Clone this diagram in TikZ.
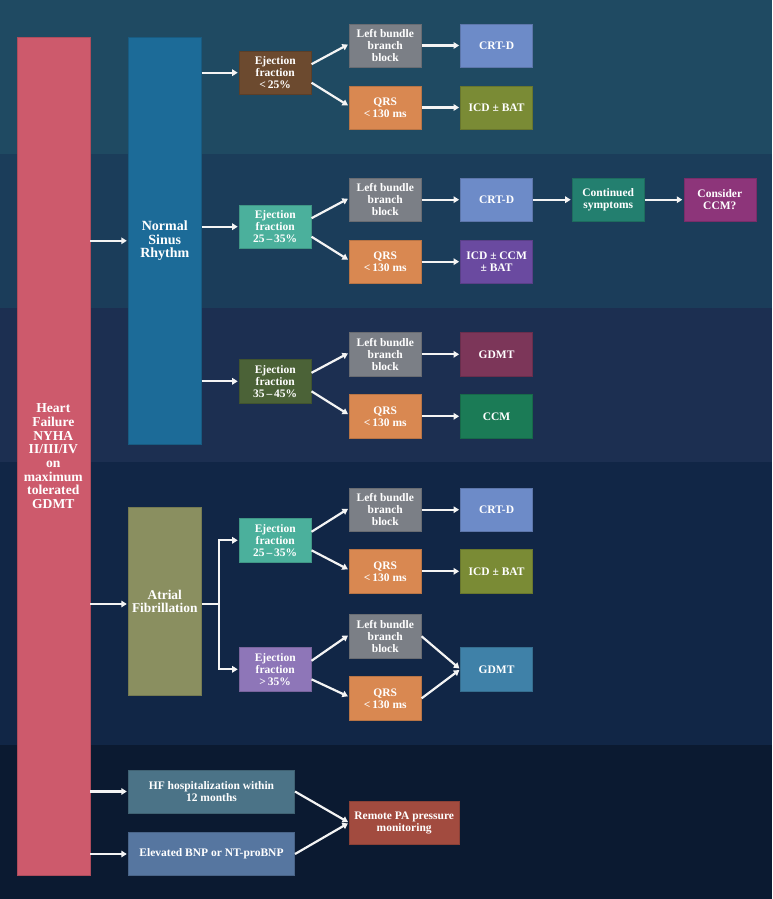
\documentclass[tikz,border=0pt]{standalone}
\usepackage{fontspec}
\setmainfont{Liberation Serif}
\usetikzlibrary{arrows.meta,calc}
\definecolor{bgA}{HTML}{1F4A62}
\definecolor{bgB}{HTML}{1B3D5A}
\definecolor{bgC}{HTML}{1C2F51}
\definecolor{bgD}{HTML}{112646}
\definecolor{bgE}{HTML}{0B1A31}
\definecolor{cHF}{HTML}{CD5A6C}
\definecolor{cNSR}{HTML}{1C6B98}
\definecolor{cAF}{HTML}{8A8F60}
\definecolor{cEFa}{HTML}{6C4A2F}
\definecolor{cEFb}{HTML}{4BB09C}
\definecolor{cEFc}{HTML}{4B6237}
\definecolor{cEFd}{HTML}{8E76B8}
\definecolor{cLB}{HTML}{7B7F86}
\definecolor{cQRS}{HTML}{D98851}
\definecolor{cCRT}{HTML}{6D8BC8}
\definecolor{cICD}{HTML}{7A8B35}
\definecolor{cCONT}{HTML}{237F6F}
\definecolor{cCONS}{HTML}{8D357A}
\definecolor{cICC}{HTML}{6A4AA0}
\definecolor{cGDa}{HTML}{7C3659}
\definecolor{cCCM}{HTML}{1B7B56}
\definecolor{cGDb}{HTML}{3F81A8}
\definecolor{cHOSP}{HTML}{4B7387}
\definecolor{cBNP}{HTML}{5676A0}
\definecolor{cREM}{HTML}{A24B3F}
\definecolor{arrw}{HTML}{F4F4F4}
\begin{document}
\begin{tikzpicture}[x=1pt,y=-1pt,
  box/.style={rectangle, inner sep=0pt, text=white, font=\bfseries\fontsize{11.5}{12}\selectfont,
    align=center, minimum width=72pt, minimum height=43.3pt, fill=#1, draw=#1!85!black, line width=0.6pt},
  bigbox/.style={box=#1, font=\bfseries\fontsize{13.6}{13.7}\selectfont, minimum width=73pt},
  arr/.style={draw=arrw, line width=2.2pt, -{Triangle[length=5.5pt,width=6.5pt]}, shorten >=1.2pt},
  ln/.style={draw=arrw, line width=2.2pt}
]
\useasboundingbox (0,0) rectangle (772,899);
% background bands
\fill[bgA] (0,0) rectangle (772,154);
\fill[bgB] (0,154) rectangle (772,308.3);
\fill[bgC] (0,308.3) rectangle (772,462);
\fill[bgD] (0,462) rectangle (772,745);
\fill[bgE] (0,745) rectangle (772,899);

% main columns
\node[bigbox=cHF, minimum height=838pt] (hf) at (53.3,456.3)
  {Heart\\Failure\\NYHA\\II/III/IV\\on\\maximum\\tolerated\\GDMT};
\node[bigbox=cNSR, minimum height=407pt, font=\bfseries\fontsize{14}{13.5}\selectfont] (nsr) at (164.8,240.8)
  {Normal\\Sinus\\Rhythm};
\node[bigbox=cAF, minimum height=188.4pt, font=\bfseries\fontsize{13.4}{13.4}\selectfont] (af) at (164.8,601.5)
  {Atrial\\Fibrillation};

% NSR branch
\node[box=cEFa] (ef1) at (275.2,72.7) {Ejection\\fraction\\<\,25\%};
\node[box=cEFb] (ef2) at (275.2,226.7) {Ejection\\fraction\\25\,–\,35\%};
\node[box=cEFc] (ef3) at (275.2,381.3) {Ejection\\fraction\\35\,–\,45\%};

\node[box=cLB] (lb1) at (385.3,45.5) {Left bundle\\branch\\block};
\node[box=cQRS] (qr1) at (385.3,107.5) {QRS\\<\,130 ms};
\node[box=cLB] (lb2) at (385.3,199.7) {Left bundle\\branch\\block};
\node[box=cQRS] (qr2) at (385.3,261.7) {QRS\\<\,130 ms};
\node[box=cLB] (lb3) at (385.3,354.3) {Left bundle\\branch\\block};
\node[box=cQRS] (qr3) at (385.3,416.3) {QRS\\<\,130 ms};

\node[box=cCRT] (crt1) at (496.6,45.5) {CRT-D};
\node[box=cICD] (icd1) at (496.6,107.5) {ICD ± BAT};
\node[box=cCRT] (crt2) at (496.6,199.7) {CRT-D};
\node[box=cICC] (icc2) at (496.6,261.7) {ICD ± CCM\\± BAT};
\node[box=cCONT] (cont) at (608.2,199.7) {Continued\\symptoms};
\node[box=cCONS] (cons) at (719.8,199.7) {Consider\\CCM?};
\node[box=cGDa] (gd3) at (496.6,354.3) {GDMT};
\node[box=cCCM] (ccm3) at (496.6,416.3) {CCM};

% AF branch
\node[box=cEFb] (efa1) at (275.2,540.3) {Ejection\\fraction\\25\,–\,35\%};
\node[box=cEFd] (efa2) at (275.2,669.3) {Ejection\\fraction\\>\,35\%};
\node[box=cLB] (lb4) at (385.3,509.7) {Left bundle\\branch\\block};
\node[box=cQRS] (qr4) at (385.3,571.3) {QRS\\<\,130 ms};
\node[box=cCRT] (crt4) at (496.6,509.7) {CRT-D};
\node[box=cICD] (icd4) at (496.6,571.3) {ICD ± BAT};
\node[box=cLB] (lb5) at (385.3,636.3) {Left bundle\\branch\\block};
\node[box=cQRS] (qr5) at (385.3,698.3) {QRS\\<\,130 ms};
\node[box=cGDb] (gd5) at (496.6,669.3) {GDMT};

% bottom
\node[box=cHOSP, minimum width=166.4pt] (hosp) at (211.5,791.5) {HF hospitalization within\\12 months};
\node[box=cBNP, minimum width=166.4pt] (bnp) at (211.5,854) {Elevated BNP or NT-proBNP};
\node[box=cREM, minimum width=109.7pt] (rem) at (404.2,822.7) {Remote PA pressure\\monitoring};

% connectors from HF
\draw[arr] (hf.east |- nsr.west) -- (nsr.west);
\coordinate (afs) at ($(af.east)+(0,2.5)$);
\coordinate (afj) at ($(af.east)+(17.7,2.5)$);
\draw[arr] (hf.east |- afs) -- (af.west |- afs);
\draw[arr] (hf.east |- hosp.west) -- (hosp.west);
\draw[arr] (hf.east |- bnp.west) -- (bnp.west);

% NSR to EFs
\draw[arr] (nsr.east |- ef1.west) -- (ef1.west);
\draw[arr] (nsr.east |- ef2.west) -- (ef2.west);
\draw[arr] (nsr.east |- ef3.west) -- (ef3.west);

% EF to LBBB/QRS
\foreach \e/\l/\q in {ef1/lb1/qr1, ef2/lb2/qr2, ef3/lb3/qr3, efa1/lb4/qr4, efa2/lb5/qr5}{
  \draw[arr] ([yshift=8.5pt]\e.east) -- ([yshift=1.5pt]\l.west);
  \draw[arr] ([yshift=-10pt]\e.east) -- ([yshift=1.5pt]\q.west);
}

% to results
\draw[arr] (lb1) -- (crt1);
\draw[arr] (qr1) -- (icd1);
\draw[arr] (lb2) -- (crt2);
\draw[arr] (crt2) -- (cont);
\draw[arr] (cont) -- (cons);
\draw[arr] (qr2) -- (icc2);
\draw[arr] (lb3) -- (gd3);
\draw[arr] (qr3) -- (ccm3);
\draw[arr] (lb4) -- (crt4);
\draw[arr] (qr4) -- (icd4);
\draw[arr] (lb5.east) -- (gd5.west);
\draw[arr] (qr5.east) -- (gd5.west);

% AF split
\draw[ln] (afs) -- (afj);
\draw[arr] (afj) |- (efa1.west);
\draw[arr] (afj) |- (efa2.west);

% bottom converge
\draw[arr] (hosp.east) -- (rem.west);
\draw[arr] (bnp.east) -- (rem.west);
\end{tikzpicture}
\end{document}
